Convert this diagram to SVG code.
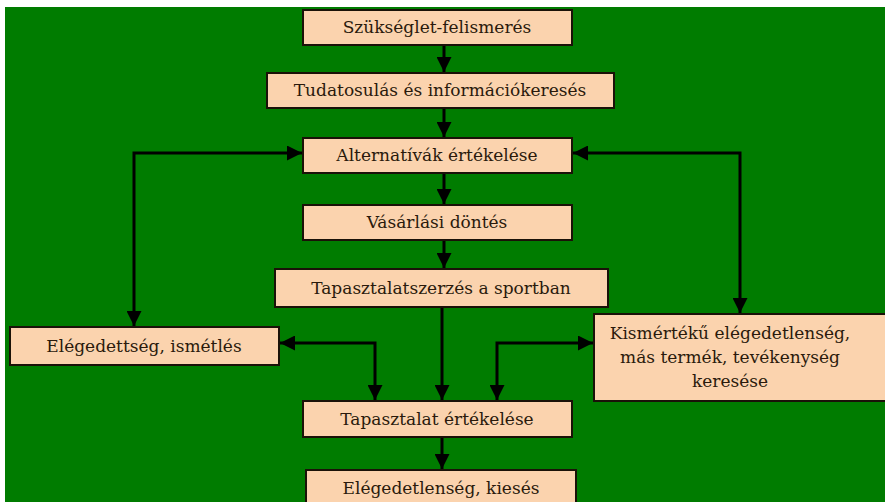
<svg xmlns="http://www.w3.org/2000/svg" width="885" height="502" viewBox="0 0 885 502">
<defs>
<style>
.box{fill:#FBD3AE;stroke:#1a1208;stroke-width:2}
.t{font-family:"DejaVu Serif","Liberation Serif",serif;font-size:17px;fill:#2a1a0c;text-anchor:middle}
.c{fill:none;stroke:#000;stroke-width:3}
</style>
<marker id="ah" viewBox="0 0 10 10" refX="10" refY="5" markerWidth="5.5" markerHeight="5" orient="auto-start-reverse" markerUnits="strokeWidth">
<path d="M0,0 L10,5 L0,10 z" fill="#000"/>
</marker>
</defs>
<rect x="0" y="0" width="885" height="502" fill="#fff"/>
<rect x="5" y="7" width="880" height="495" fill="#007C00"/>
<g id="connectors">
<line class="c" x1="444" y1="45" x2="444" y2="72" marker-end="url(#ah)"/>
<line class="c" x1="444" y1="108" x2="444" y2="137" marker-end="url(#ah)"/>
<line class="c" x1="444" y1="173" x2="444" y2="204" marker-end="url(#ah)"/>
<line class="c" x1="444" y1="240" x2="444" y2="268" marker-end="url(#ah)"/>
<line class="c" x1="442" y1="307" x2="442" y2="400" marker-end="url(#ah)"/>
<line class="c" x1="442" y1="437" x2="442" y2="469" marker-end="url(#ah)"/>
<polyline class="c" points="134,326 134,153 302,153" marker-start="url(#ah)" marker-end="url(#ah)"/>
<polyline class="c" points="740,313 740,153 573,153" marker-start="url(#ah)" marker-end="url(#ah)"/>
<polyline class="c" points="280,343 375,343 375,400" marker-start="url(#ah)" marker-end="url(#ah)"/>
<polyline class="c" points="593,343 497,343 497,400" marker-start="url(#ah)" marker-end="url(#ah)"/>
</g>
<g id="n1"><rect class="box" x="303" y="10" width="269" height="35"/><text class="t" x="437" y="33">Szükséglet-felismerés</text></g>
<g id="n2"><rect class="box" x="267" y="73" width="347" height="35"/><text class="t" x="440" y="96">Tudatosulás és információkeresés</text></g>
<g id="n3"><rect class="box" x="303" y="138" width="269" height="35"/><text class="t" x="437" y="161">Alternatívák értékelése</text></g>
<g id="n4"><rect class="box" x="303" y="205" width="269" height="35"/><text class="t" x="437" y="228">Vásárlási döntés</text></g>
<g id="n5"><rect class="box" x="275" y="269" width="333" height="38"/><text class="t" x="441" y="294">Tapasztalatszerzés a sportban</text></g>
<g id="n6"><rect class="box" x="10" y="327" width="269" height="38"/><text class="t" x="144" y="352">Elégedettség, ismétlés</text></g>
<g id="n7"><rect class="box" x="594" y="314" width="295" height="87"/><text class="t" x="730" y="339">Kismértékű elégedetlenség,</text><text class="t" x="730" y="363">más termék, tevékenység</text><text class="t" x="730" y="387">keresése</text></g>
<g id="n8"><rect class="box" x="303" y="401" width="269" height="36"/><text class="t" x="437" y="425">Tapasztalat értékelése</text></g>
<g id="n9"><rect class="box" x="306" y="470" width="270" height="40"/><text class="t" x="441" y="494">Elégedetlenség, kiesés</text></g>
</svg>
